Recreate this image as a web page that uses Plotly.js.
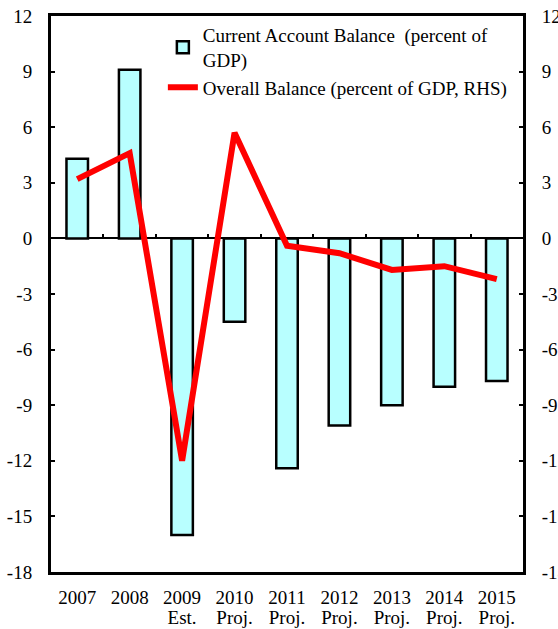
<!DOCTYPE html>
<html>
<head>
<meta charset="utf-8">
<script src="https://cdn.plot.ly/plotly-3.0.1.min.js"></script>
<style>html,body{margin:0;padding:0;background:#fff;}#chart{width:558px;height:629px;}</style>
</head>
<body>
<div id="chart"></div>
<script>
const years = ["2007","2008","2009","2010","2011","2012","2013","2014","2015"];
const yearNotes = ["","","Est.","Proj.","Proj.","Proj.","Proj.","Proj.","Proj."];
const currentAccount = [4.3, 9.1, -16.0, -4.5, -12.4, -10.1, -9.0, -8.0, -7.7];
const overallBalance = [3.2, 4.6, -12.0, 5.7, -0.4, -0.8, -1.7, -1.5, -2.2];
const yTicks = [-18, -15, -12, -9, -6, -3, 0, 3, 6, 9, 12];
const seriesNames = ["Current Account Balance  (percent of<br>GDP)", "Overall Balance (percent of GDP, RHS)"];

const idx = years.map((_, i) => i);
const font = {family: "Liberation Serif, Times New Roman, serif", size: 19, color: "#000"};

const traces = [
  {
    type: "bar", name: seriesNames[0], x: years, y: currentAccount,
    xaxis: "x", yaxis: "y", width: 0.41,
    marker: {color: "#b8ffff", line: {color: "#000", width: 2.5}},
    hoverinfo: "x+y"
  },
  {
    type: "scatter", mode: "lines", name: seriesNames[1], x: years, y: overallBalance,
    xaxis: "x2", yaxis: "y2",
    line: {color: "#ff0000", width: 6},
    hoverinfo: "x+y"
  },
  {
    // invisible carrier so the second row of category labels (Est./Proj.) is drawn
    type: "scatter", mode: "markers", x: idx, y: currentAccount,
    xaxis: "x3", yaxis: "y", showlegend: false, hoverinfo: "skip",
    marker: {opacity: 0, size: 1}
  }
];

const yCommon = {
  range: [-18, 12], tickmode: "array", tickvals: yTicks, ticktext: yTicks.map(String),
  ticks: "inside", ticklen: 4, tickwidth: 2, tickcolor: "#000",
  showline: true, linecolor: "#000", linewidth: 3,
  showgrid: false, tickfont: font, ticklabelstandoff: 12, fixedrange: true
};

const layout = {
  width: 558, height: 629,
  margin: {l: 51, r: 35, t: 16, b: 57},
  paper_bgcolor: "#fff", plot_bgcolor: "#fff",
  font: font,
  showlegend: true,
  legend: {
    x: 0.237, y: 1.0, xanchor: "left", yanchor: "top",
    bgcolor: "rgba(0,0,0,0)", font: font, tracegroupgap: 0, traceorder: "normal"
  },
  xaxis: {
    type: "category", categoryorder: "array", categoryarray: years,
    range: [-0.5, 8.5], showline: true, linecolor: "#000", linewidth: 3, mirror: true,
    ticks: "", showgrid: false, tickfont: font, ticklabelstandoff: 6, fixedrange: true
  },
  xaxis2: {
    type: "category", categoryorder: "array", categoryarray: years,
    range: [-0.5, 8.5], overlaying: "x", anchor: "free", position: 0.6, side: "bottom",
    ticks: "inside", tickson: "boundaries", ticklen: 4, tickwidth: 2, tickcolor: "#000",
    showticklabels: false, showline: false, showgrid: false, fixedrange: true
  },
  xaxis3: {
    type: "linear", range: [-0.5, 8.5], overlaying: "x", anchor: "free", position: 0, side: "bottom",
    tickmode: "array", tickvals: idx, ticktext: yearNotes,
    ticks: "", showline: false, showgrid: false, zeroline: false,
    tickfont: font, ticklabelstandoff: 32, fixedrange: true
  },
  yaxis: Object.assign({}, yCommon, {side: "left", zeroline: true, zerolinecolor: "#000", zerolinewidth: 2}),
  yaxis2: Object.assign({}, yCommon, {side: "right", overlaying: "y", zeroline: false})
};

Plotly.newPlot("chart", traces, layout, {displayModeBar: false, staticPlot: true});
</script>
</body>
</html>
